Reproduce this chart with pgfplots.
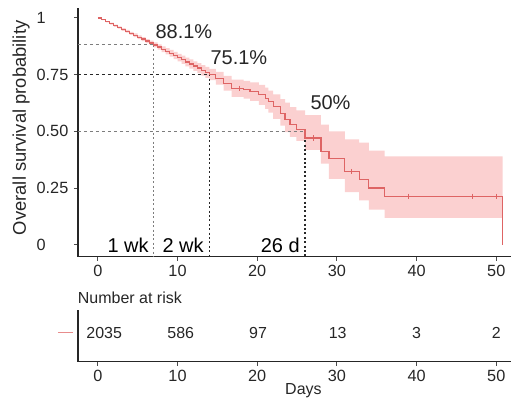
\documentclass[border=0pt]{standalone}
\usepackage{fontspec}
\setmainfont{Liberation Sans}
\usepackage{pgfplots}
\usepackage{pgfplotstable}
\usepgfplotslibrary{fillbetween}
\pgfplotsset{compat=1.18}
\definecolor{kmline}{RGB}{222,100,100}
\definecolor{kmband}{RGB}{251,208,208}
\definecolor{kmlegend}{RGB}{232,140,140}
\definecolor{guidegray}{RGB}{125,125,125}
\definecolor{guidedark}{RGB}{40,40,40}

\pgfplotstableread{
x s hi lo
0 1.000 1.000 1.000
0.5 0.992 0.994 0.990
1.0 0.983 0.986 0.980
1.5 0.975 0.979 0.971
2.0 0.966 0.971 0.961
2.5 0.958 0.963 0.953
3.0 0.949 0.955 0.943
3.5 0.941 0.947 0.935
4.0 0.932 0.939 0.925
4.5 0.924 0.932 0.916
5.0 0.915 0.923 0.907
5.5 0.907 0.916 0.898
6.0 0.898 0.907 0.889
6.5 0.890 0.900 0.880
7.0 0.881 0.892 0.870
7.5 0.872 0.884 0.860
8.0 0.862 0.875 0.849
8.5 0.853 0.867 0.839
9.0 0.844 0.859 0.829
9.5 0.834 0.850 0.818
10.0 0.825 0.842 0.808
10.5 0.816 0.834 0.798
11.0 0.806 0.825 0.787
11.5 0.797 0.817 0.777
12.0 0.788 0.809 0.767
12.5 0.779 0.801 0.757
13.0 0.769 0.792 0.746
13.5 0.760 0.784 0.736
14.0 0.751 0.776 0.726
14.8 0.734 0.762 0.706
15.8 0.712 0.745 0.679
16.8 0.690 0.728 0.652
18.3 0.683 0.722 0.644
19.1 0.675 0.716 0.634
20.2 0.661 0.705 0.617
21.0 0.646 0.693 0.599
21.4 0.631 0.680 0.582
22.0 0.609 0.663 0.555
22.9 0.580 0.642 0.525
23.5 0.551 0.627 0.497
24.1 0.529 0.607 0.475
24.9 0.507 0.592 0.458
26.0 0.470 0.572 0.418
28.0 0.411 0.530 0.358
29.0 0.380 0.500 0.290
31.0 0.323 0.465 0.232
32.8 0.286 0.450 0.195
34.0 0.250 0.415 0.155
36.0 0.213 0.390 0.118
50.8 0.000 0.390 0.118
}\kmdata

\begin{document}
\begin{tikzpicture}
\begin{axis}[
  name=main,
  at={(0,0)}, anchor=south west,
  width=325.5pt, height=186.75pt, scale only axis,
  xmin=-2.5, xmax=51.9, ymin=-0.053, ymax=1.044,
  axis lines=left,
  axis line style={-, line width=0.9pt, black!85},
  tick align=outside, major tick length=3pt,
  tick style={line width=0.7pt, black!70},
  xtick={0,10,20,30,40,50},
  ytick={0,0.25,0.5,0.75,1},
  yticklabels={0,0.25,0.50,0.75,1},
  /pgf/number format/assume math mode=true,
  tick label style={font=\fontsize{12.2}{14}\selectfont, text=black!85},
  yticklabel style={anchor=west, xshift=-31.5pt},
  ylabel={Overall survival probability},
  ylabel style={font=\fontsize{13.8}{16}\selectfont, at={(rel axis cs:-0.131,0.518)}, anchor=center, text=black!85},
  clip=false,
]
\addplot[name path=hi, draw=none, const plot, forget plot] table[x=x, y=hi] {\kmdata};
\addplot[name path=lo, draw=none, const plot, forget plot] table[x=x, y=lo] {\kmdata};
\addplot[kmband, draw=none, forget plot] fill between[of=hi and lo];
% guide lines
\addplot[guidegray, line width=0.7pt, dash pattern=on 2.5pt off 2pt] coordinates {(-2.5,0.881) (7,0.881)};
\addplot[guidegray, line width=0.7pt, dash pattern=on 1.5pt off 1.8pt] coordinates {(7,0.881) (7,-0.053)};
\addplot[guidedark, line width=0.8pt, dash pattern=on 2.5pt off 2pt] coordinates {(-2.5,0.751) (14,0.751)};
\addplot[guidedark, line width=0.8pt, dash pattern=on 1.5pt off 1.8pt] coordinates {(14,0.751) (14,-0.053)};
\addplot[guidegray, line width=0.7pt, dash pattern=on 2.5pt off 2pt] coordinates {(-2.5,0.5) (26,0.5)};
\addplot[guidedark, line width=0.8pt, dash pattern=on 1.5pt off 1.8pt] coordinates {(26,0.5) (26,-0.053)};
% KM curve
\addplot[kmline, line width=0.95pt, const plot, mark=none] table[x=x, y=s] {\kmdata};
% censor marks
\addplot[kmline, only marks, mark=|, mark size=2pt, mark options={line width=0.5pt}] coordinates {
 (17.8,0.690) (27.0,0.470) (31.8,0.323) (39.0,0.213) (47.0,0.213) (50.0,0.213)};
% annotations
\node[font=\fontsize{15}{17}\selectfont, text=black!85] at (axis cs:10.8,0.938) {88.1\%};
\node[font=\fontsize{15}{17}\selectfont, text=black!85] at (axis cs:17.7,0.824) {75.1\%};
\node[font=\fontsize{15}{17}\selectfont, text=black!85] at (axis cs:29.2,0.626) {50\%};
\node[font=\fontsize{15}{17}\selectfont, text=black] at (axis cs:3.8,-0.004) {1 wk};
\node[font=\fontsize{15}{17}\selectfont, text=black] at (axis cs:10.7,-0.004) {2 wk};
\node[font=\fontsize{15}{17}\selectfont, text=black] at (axis cs:22.9,-0.004) {26 d};
\end{axis}

\begin{axis}[
  name=risk,
  at={(0,-78.75pt)}, anchor=south west,
  width=325.5pt, height=39pt, scale only axis,
  xmin=-2.5, xmax=51.9, ymin=0, ymax=1,
  axis lines=left,
  axis line style={-, line width=0.9pt, black!85},
  tick align=outside, major tick length=3pt,
  tick style={line width=0.7pt, black!70},
  xtick={0,10,20,30,40,50},
  ytick=\empty,
  /pgf/number format/assume math mode=true,
  tick label style={font=\fontsize{12.2}{14}\selectfont, text=black!85},
  clip=false,
]
\addplot[kmlegend, line width=1pt] coordinates {(-5.0,0.558) (-3.1,0.558)};
\node[font=\fontsize{12}{14}\selectfont, anchor=west, text=black!85, xshift=-3.5pt] at (rel axis cs:0,1.23) {Number at risk};
\node[font=\fontsize{12}{14}\selectfont, text=black!85] at (axis cs:0.8,0.558) {2035};
\node[font=\fontsize{12}{14}\selectfont, text=black!85] at (axis cs:10.4,0.558) {586};
\node[font=\fontsize{12}{14}\selectfont, text=black!85] at (axis cs:20.1,0.558) {97};
\node[font=\fontsize{12}{14}\selectfont, text=black!85] at (axis cs:30.1,0.558) {13};
\node[font=\fontsize{12}{14}\selectfont, text=black!85] at (axis cs:40,0.558) {3};
\node[font=\fontsize{12}{14}\selectfont, text=black!85] at (axis cs:50,0.558) {2};
\node[font=\fontsize{12}{14}\selectfont, text=black!85] at (axis cs:25.8,-0.56) {Days};
\end{axis}
\path (-58.5pt,-107.25pt) rectangle (325.5pt,192.75pt);
\end{tikzpicture}
\end{document}
